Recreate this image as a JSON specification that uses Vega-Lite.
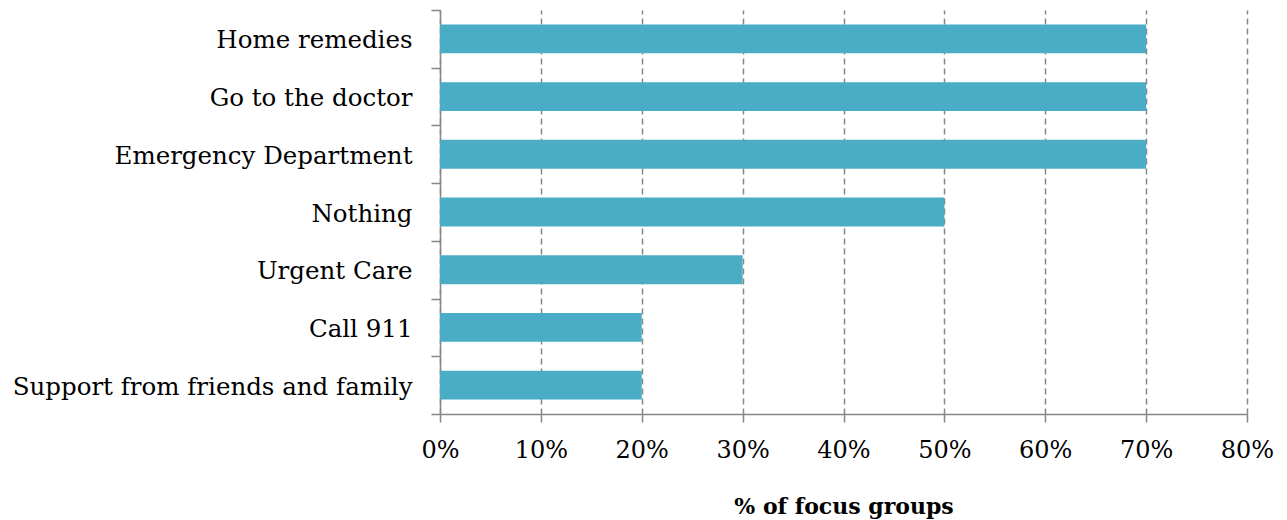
{
  "$schema": "https://vega.github.io/schema/vega-lite/v6.json",
  "autosize": {"type": "none"},
  "padding": {"left": 440, "top": 10, "right": 40, "bottom": 106},
  "width": 807,
  "height": 404,
  "background": "white",
  "data": {"values": [
    {"category": "Home remedies", "value": 0.7},
    {"category": "Go to the doctor", "value": 0.7},
    {"category": "Emergency Department", "value": 0.7},
    {"category": "Nothing", "value": 0.5},
    {"category": "Urgent Care", "value": 0.3},
    {"category": "Call 911", "value": 0.2},
    {"category": "Support from friends and family", "value": 0.2}
  ]},
  "mark": {"type": "bar", "color": "#4BACC6", "height": {"band": 0.5}},
  "encoding": {
    "y": {
      "field": "category", "type": "nominal", "sort": null,
      "scale": {"paddingInner": 0, "paddingOuter": 0},
      "axis": {
        "title": null, "tickBand": "extent", "tickSize": 9, "tickColor": "#868686",
        "domainColor": "#868686", "domainWidth": 1.5, "tickWidth": 1.5,
        "labelFont": "DejaVu Serif", "labelFontSize": 24.5, "labelColor": "#000000",
        "labelPadding": 19, "labelLimit": 500, "labelOffset": 2, "grid": false
      }
    },
    "x": {
      "field": "value", "type": "quantitative",
      "scale": {"domain": [0, 0.8], "nice": false},
      "axis": {
        "format": "%", "values": [0, 0.1, 0.2, 0.3, 0.4, 0.5, 0.6, 0.7, 0.8],
        "title": "% of focus groups", "titleFont": "DejaVu Serif", "titleFontSize": 22,
        "titleFontWeight": "bold", "titleColor": "#000000", "titlePadding": 34,
        "labelFont": "DejaVu Serif", "labelFontSize": 24, "labelColor": "#000000",
        "labelPadding": 16, "labelFlush": false, "labelAlign": "center",
        "tickSize": 8, "tickColor": "#868686", "tickWidth": 1.5,
        "domainColor": "#868686", "domainWidth": 1.5,
        "grid": true, "gridColor": "#868686", "gridDash": [6, 4], "gridWidth": 1.5
      }
    }
  },
  "config": {"view": {"stroke": null}}
}
